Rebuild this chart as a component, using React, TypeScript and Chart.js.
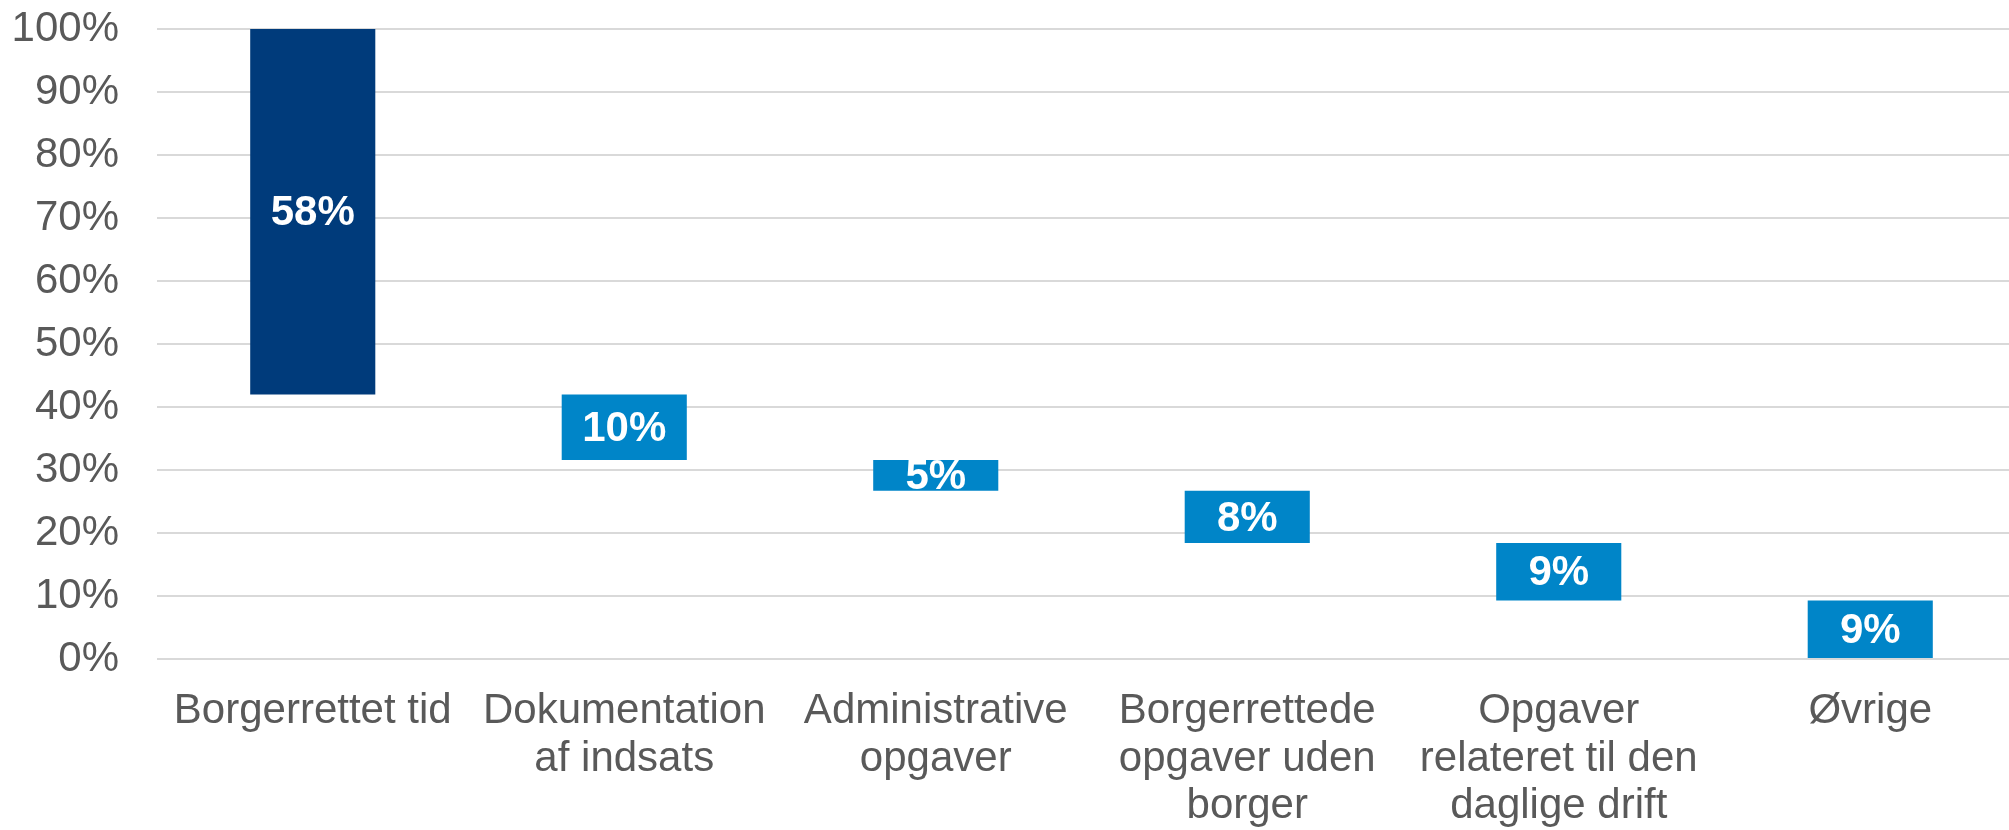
import React, { useEffect, useRef } from "react";
import { Chart, registerables } from "chart.js";

Chart.register(...registerables);

const categories: (string | string[])[] = [
  "Borgerrettet tid",
  ["Dokumentation", "af indsats"],
  ["Administrative", "opgaver"],
  ["Borgerrettede", "opgaver uden", "borger"],
  ["Opgaver", "relateret til den", "daglige drift"],
  "Øvrige",
];
const segmentValues = [58, 10.4, 4.9, 8.3, 9.1, 9.3];
const valueLabels = ["58%", "10%", "5%", "8%", "9%", "9%"];
const barColors = ["#003B7B", "#0085C8", "#0085C8", "#0085C8", "#0085C8", "#0085C8"];
const yMin = 0;
const yMax = 100;
const yStep = 10;

const FONT = "'Liberation Sans', Arial, Helvetica, sans-serif";

export default function App() {
  const ref = useRef<HTMLCanvasElement | null>(null);

  useEffect(() => {
    if (!ref.current) return;
    let top = yMax;
    const floating = segmentValues.map((v) => {
      const seg: [number, number] = [top - v, top];
      top -= v;
      return seg;
    });

    const labelPlugin = {
      id: "valueLabels",
      afterDatasetsDraw(chart: any) {
        const ctx = chart.ctx;
        const meta = chart.getDatasetMeta(0);
        ctx.save();
        ctx.fillStyle = "#FFFFFF";
        ctx.font = `bold 42px ${FONT}`;
        ctx.textAlign = "center";
        ctx.textBaseline = "middle";
        meta.data.forEach((bar: any, i: number) => {
          const p = bar.getProps(["x", "y", "base"], true);
          ctx.fillText(valueLabels[i], p.x, (p.y + p.base) / 2 + 2);
        });
        ctx.restore();
      },
    };

    const chart = new Chart(ref.current, {
      type: "bar",
      data: {
        labels: categories as any,
        datasets: [
          {
            data: floating as any,
            backgroundColor: barColors,
            borderWidth: 0,
            borderSkipped: false,
            barPercentage: 1,
            categoryPercentage: 0.4016,
          },
        ],
      },
      options: {
        responsive: false,
        animation: false,
        layout: { padding: 0 },
        plugins: {
          legend: { display: false },
          tooltip: { enabled: false },
        },
        scales: {
          x: {
            grid: { display: false, drawTicks: false },
            border: { display: false },
            ticks: {
              color: "#595959",
              font: { family: FONT, size: 42, lineHeight: 1.13 },
              padding: 29,
              maxRotation: 0,
              autoSkip: false,
            },
            afterFit: (s: any) => {
              s.height = 171;
            },
          },
          y: {
            min: yMin,
            max: yMax,
            grid: { color: "#D9D9D9", lineWidth: 2, drawTicks: false },
            border: { display: false },
            ticks: {
              stepSize: yStep,
              color: "#595959",
              font: { family: FONT, size: 42 },
              padding: 38,
              callback: (v: any) => `${v}%`,
            },
            afterFit: (s: any) => {
              s.width = 157;
              s.paddingTop = 29;
            },
          },
        },
      },
      plugins: [labelPlugin],
    });
    return () => chart.destroy();
  }, []);

  return (
    <div
      style={{
        position: "fixed",
        left: 0,
        top: 0,
        width: 2009,
        height: 830,
        overflow: "hidden",
        background: "#FFFFFF",
      }}
    >
      <canvas ref={ref} width={2026} height={830} style={{ width: 2026, height: 830, display: "block" }} />
    </div>
  );
}
